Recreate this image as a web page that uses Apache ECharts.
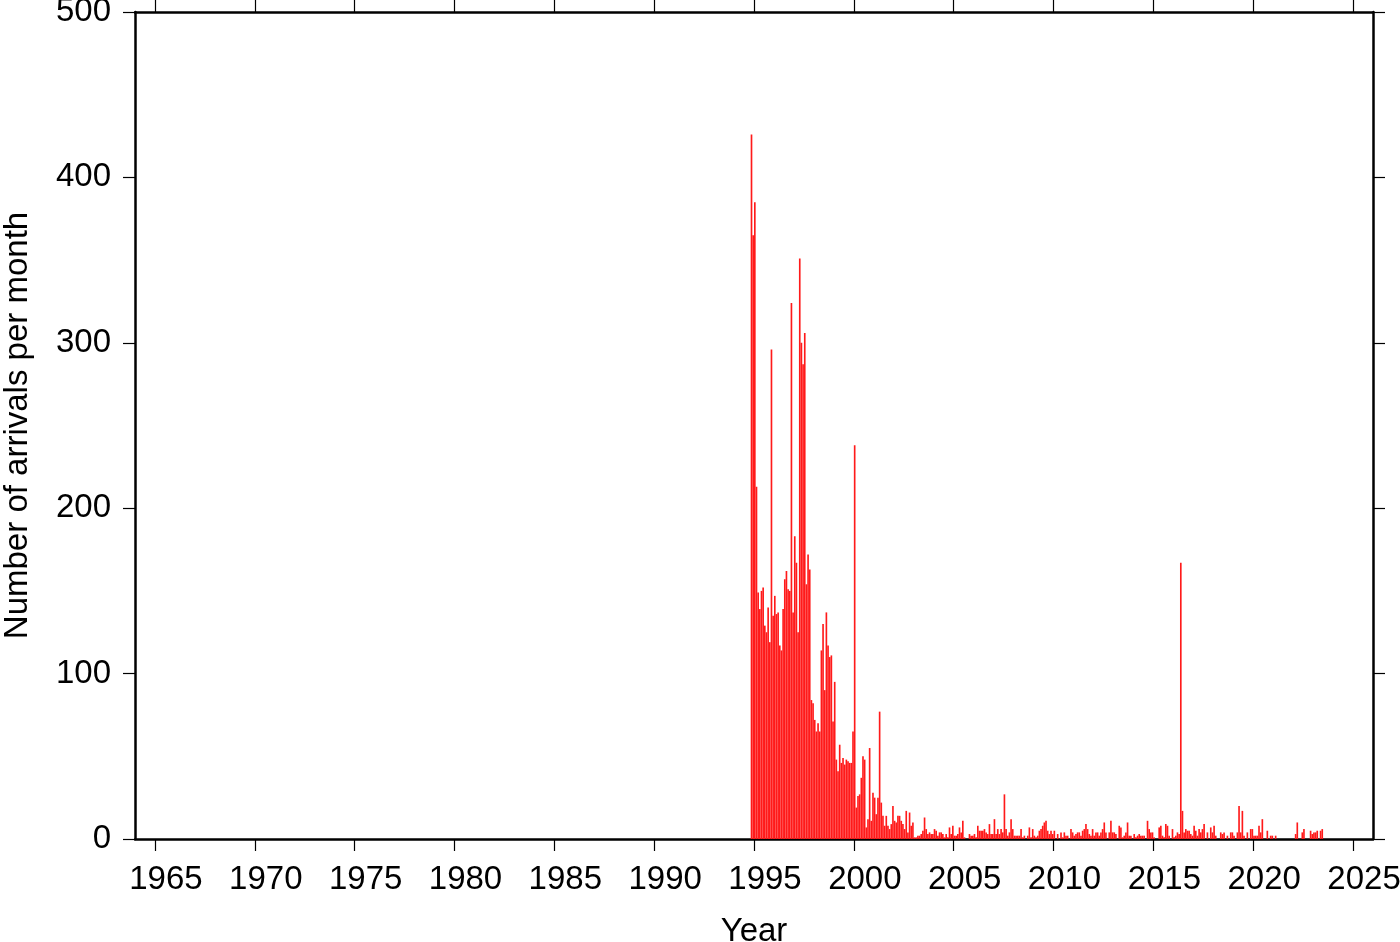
<!DOCTYPE html>
<html>
<head>
<meta charset="utf-8">
<script src="https://cdn.jsdelivr.net/npm/echarts@6/dist/echarts.min.js"></script>
<style>
html,body{margin:0;padding:0;background:#fff;}
#chart{width:1400px;height:942px;}
</style>
</head>
<body>
<div id="chart"></div>
<script>
// Monthly arrival counts, first month = November 1994
const startYear = 1994;
const startMonth = 11; // November
const counts = [
  426,365,385,213,149,139,150,152,129,125,
  140,119,296,135,147,136,137,117,114,139,
  157,162,151,150,324,137,183,167,125,351,
  300,287,306,154,172,163,84,82,72,65,
  70,65,114,130,90,137,117,110,111,71,
  95,48,41,57,46,49,45,48,47,46,
  46,65,238,19,26,27,37,50,48,7,
  12,55,11,28,25,15,25,77,22,14,
  8,14,8,6,9,20,11,10,14,14,
  11,9,6,17,4,16,8,10,1,1,
  2,2,3,5,13,6,3,4,3,3,
  6,5,2,4,4,3,1,3,1,7,
  3,8,2,2,3,7,4,11,1,0,
  0,3,2,2,3,1,8,5,5,5,
  6,4,3,9,3,3,12,3,6,3,
  6,4,27,6,2,4,12,6,2,2,
  2,2,6,1,2,0,2,7,1,6,
  2,1,2,5,6,8,10,11,5,3,
  5,3,5,0,3,0,4,1,4,2,
  2,0,6,4,2,3,4,4,2,5,
  6,9,6,3,2,6,2,4,4,2,
  4,6,10,4,0,4,11,4,4,3,
  0,8,7,1,2,4,10,2,2,0,
  3,1,2,3,2,2,2,0,11,6,
  4,4,1,0,0,7,8,2,1,9,
  8,2,0,6,1,2,4,3,167,17,
  4,6,5,5,3,2,8,5,2,6,
  4,6,9,0,4,0,7,4,8,2,
  0,0,4,3,4,0,2,0,4,4,
  2,0,4,20,4,17,2,0,4,0,
  6,6,2,2,2,8,4,12,0,0,
  5,0,2,2,0,2,0,0,0,0,
  0,0,0,0,0,0,0,3,10,0,
  0,4,6,0,0,0,5,3,4,4,
  5,0,5,6
];
const yearTicks = [1965,1970,1975,1980,1985,1990,1995,2000,2005,2010,2015,2020,2025];
const yTicks = [0,100,200,300,400,500];
const xTitle = 'Year';
const yTitle = 'Number of arrivals per month';

const barData = counts.map((v, i) => [startYear + (startMonth - 1 + i + 0.5) / 12, v]);

const FONT = '"Liberation Sans", Arial, Helvetica, sans-serif';
const lineStyle = {color:'#000', width:2.5};
const tickStyle = {color:'#000', width:1.2};

const chart = echarts.init(document.getElementById('chart'), null, {renderer:'canvas'});
chart.setOption({
  animation:false,
  backgroundColor:'#fff',
  grid:{left:135, right:27, top:12, bottom:103, containLabel:false, outerBoundsMode:'none'},
  xAxis:[{
    type:'value', min:1964, max:2026, position:'bottom',
    axisLine:{show:true, onZero:false, lineStyle:lineStyle},
    axisTick:{show:true, inside:false, length:12, lineStyle:tickStyle, customValues:yearTicks},
    axisLabel:{show:true, customValues:yearTicks, fontFamily:FONT, fontSize:33, color:'#000', margin:24,
      padding:[0,0,0,22], formatter:v=>String(v)},
    splitLine:{show:false},
    name:xTitle, nameLocation:'middle', nameGap:76,
    nameTextStyle:{fontFamily:FONT, fontSize:33, color:'#000'}
  },{
    type:'value', min:1964, max:2026, position:'top',
    axisLine:{show:true, onZero:false, lineStyle:lineStyle},
    axisTick:{show:true, inside:false, length:12, lineStyle:tickStyle, customValues:yearTicks},
    axisLabel:{show:false},
    splitLine:{show:false}
  }],
  yAxis:[{
    type:'value', min:0, max:500, interval:100, position:'left',
    axisLine:{show:true, onZero:false, lineStyle:lineStyle},
    axisTick:{show:true, inside:false, length:12, lineStyle:tickStyle},
    axisLabel:{show:true, fontFamily:FONT, fontSize:33, color:'#000', margin:24},
    splitLine:{show:false},
    name:yTitle, nameLocation:'middle', nameGap:101,
    nameTextStyle:{fontFamily:FONT, fontSize:33, color:'#000'}
  },{
    type:'value', min:0, max:500, interval:100, position:'right',
    axisLine:{show:true, onZero:false, lineStyle:lineStyle},
    axisTick:{show:true, inside:false, length:12, lineStyle:tickStyle},
    axisLabel:{show:false},
    splitLine:{show:false}
  }],
  series:[{
    type:'bar',
    xAxisIndex:0, yAxisIndex:0,
    data:barData,
    barWidth:1.65,
    itemStyle:{color:'#ff1a1a'},
    silent:true
  }]
});
</script>
</body>
</html>
